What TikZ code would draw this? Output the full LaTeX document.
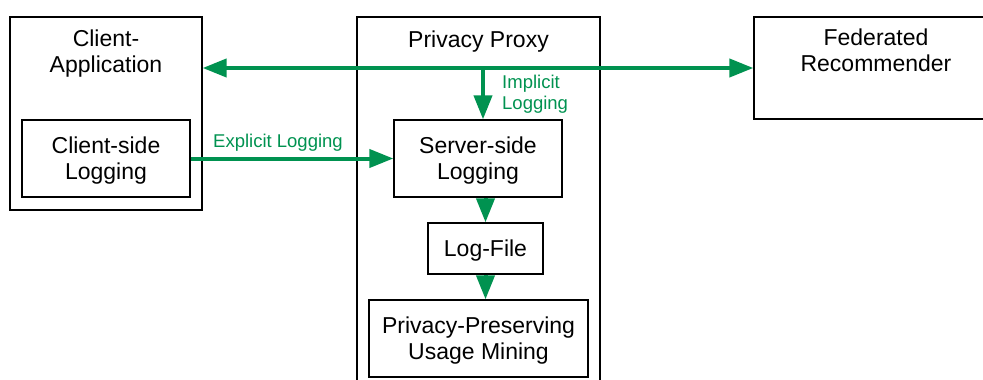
\documentclass[tikz,border=0pt]{standalone}
\usepackage{fontspec}
\setmainfont{Liberation Sans}
\usetikzlibrary{arrows.meta}
\definecolor{flowgreen}{RGB}{0,146,80}
\begin{document}
\begin{tikzpicture}[x=1pt,y=-1pt,
  box/.style={draw=black, line width=1.3pt, rectangle, inner sep=0pt,
    font=\fontsize{23}{26}\selectfont, align=center, text depth=0pt},
  caption/.style={inner sep=0pt, font=\fontsize{23}{26}\selectfont,
    align=center, text depth=0pt},
  flowtip/.tip={Triangle[length=24pt,width=18pt]},
  flow/.style={draw=flowgreen, line width=4pt, -flowtip},
  flowlabel/.style={text=flowgreen, font=\fontsize{18.5}{21}\selectfont,
    inner sep=0pt, text depth=0pt},
]
\useasboundingbox (0,0) rectangle (983,380);

% client side
\node[box, minimum width=192pt, minimum height=193pt] (clientapp) at (106,113.5) {};
\node[caption] (clientapptitle) at (106,51.25) {Client-\\Application};
\node[box, minimum width=168pt, minimum height=77pt] (clientlog) at (106,158.5) {Client-side\\Logging};

% privacy proxy (open towards the bottom)
\draw[line width=1.3pt] (357,380) |- (600,17) -- (600,380);
\node[caption] (proxytitle) at (478.5,38.75) {Privacy Proxy};
\node[box, minimum width=168pt, minimum height=77pt] (server) at (478,158.5) {Server-side\\Logging};
\node[box, minimum width=115pt, minimum height=51pt] (logfile) at (485.5,248.5) {Log-File};
\node[box, minimum width=219pt, minimum height=77pt] (mining) at (478.5,338.5) {Privacy-Preserving\\Usage Mining};

% federated recommender (open towards the right)
\draw[line width=1.3pt] (983,17) -| (754,119) -- (983,119);
\coordinate (fedwest) at (754,68);
\node[caption] (federatedtitle) at (876,50.5) {Federated\\Recommender};

% data flows
\draw[flow, flowtip-flowtip] (clientapp.east |- fedwest) -- ([xshift=-0.65pt]fedwest);
\coordinate (tap) at (483,68);
\draw[flow] (tap) -- (tap |- server.north);
\node[flowlabel, anchor=west, align=left] (implicitlabel) at (502,92) {Implicit\\Logging};
\draw[flow] (clientlog.east) -- (server.west);
\node[flowlabel] (explicitlabel) at (278,140.5) {Explicit Logging};
\draw[flow] (server.south -| logfile.north) -- (logfile.north);
\draw[flow] (logfile.south) -- (mining.north -| logfile.south);
\end{tikzpicture}
\end{document}
